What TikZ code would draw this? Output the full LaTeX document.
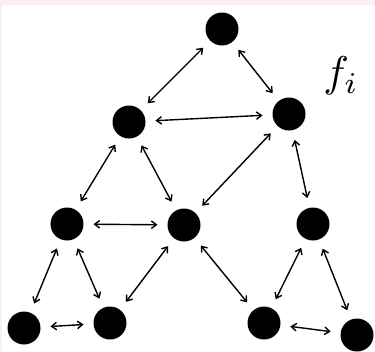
\documentclass[tikz,border=0pt]{standalone}
\usetikzlibrary{arrows.meta}
\definecolor{pinkbg}{HTML}{FDEEF4}
\begin{document}
\begin{tikzpicture}[x=1pt,y=-1pt,
  dot/.style={circle,fill=black,minimum size=33pt,inner sep=0pt,outer sep=10pt},
  link/.style={line width=1.4pt,{Straight Barb[length=5pt,width=7.5pt]}-{Straight Barb[length=5pt,width=7.5pt]}}]
  \useasboundingbox (0,0) rectangle (375,351);
  \fill[pinkbg] (0,0) rectangle (375,5);
  \fill[pinkbg] (0,0) rectangle (2,351);
  \node[dot] (t) at (222,29) {};
  \node[dot] (a) at (129,122) {};
  \node[dot] (b) at (289,114) {};
  \node[dot] (c) at (67,224) {};
  \node[dot] (d) at (184,225) {};
  \node[dot] (e) at (313,224) {};
  \node[dot] (g) at (24,328) {};
  \node[dot] (h) at (110,323) {};
  \node[dot] (k) at (264,323) {};
  \node[dot] (m) at (357,335) {};
  \node[scale=4.3] (lbl) at (341,76) {$f_i$};
  \foreach \u/\v in {t/a,t/b,a/b,a/c,a/d,b/d,b/e,c/d,c/g,c/h,d/h,d/k,e/k,e/m,g/h,k/m}
    \draw[link] (\u) -- (\v);
\end{tikzpicture}
\end{document}
